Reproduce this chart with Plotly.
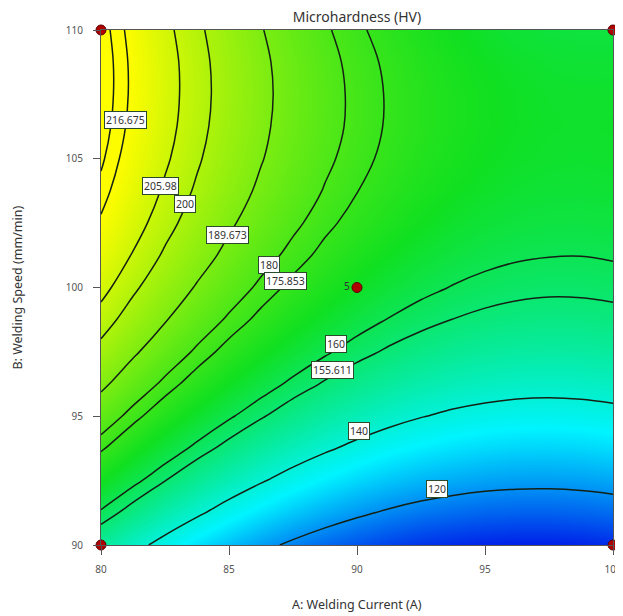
import plotly.graph_objects as go

# ---- data ----
A_current = [80, 81.25, 82.5, 83.75, 85, 86.25, 87.5, 88.75, 90,
             91.25, 92.5, 93.75, 95, 96.25, 97.5, 98.75, 100]        # A: Welding Current (A)
B_speed = [90, 91.25, 92.5, 93.75, 95, 96.25, 97.5, 98.75, 100,
           101.25, 102.5, 103.75, 105, 106.25, 107.5, 108.75, 110]   # B: Welding Speed (mm/min)

# Microhardness (HV) estimated on the grid: one row per welding speed
hv_b090_00 = [149.3, 142.9, 137.0, 131.6, 126.8, 122.3, 118.4, 115.0, 112.1, 109.7, 107.7, 106.3, 105.4, 104.9, 104.9, 105.5, 106.5]
hv_b091_25 = [159.1, 152.7, 146.7, 141.3, 136.3, 131.9, 127.9, 124.4, 121.4, 118.9, 116.9, 115.4, 114.4, 113.9, 113.9, 114.4, 115.3]
hv_b092_50 = [168.2, 161.7, 155.7, 150.2, 145.2, 140.7, 136.6, 133.1, 130.0, 127.5, 125.4, 123.9, 122.8, 122.2, 122.1, 122.5, 123.4]
hv_b093_75 = [176.7, 170.1, 164.0, 158.4, 153.4, 148.8, 144.7, 141.1, 138.0, 135.3, 133.2, 131.6, 130.5, 129.8, 129.7, 130.0, 130.9]
hv_b095_00 = [184.4, 177.7, 171.6, 166.0, 160.8, 156.2, 152.0, 148.3, 145.2, 142.5, 140.3, 138.6, 137.4, 136.7, 136.5, 136.8, 137.6]
hv_b096_25 = [191.4, 184.7, 178.5, 172.8, 167.6, 162.9, 158.6, 154.9, 151.7, 148.9, 146.7, 144.9, 143.7, 142.9, 142.6, 142.9, 143.6]
hv_b097_50 = [197.7, 190.9, 184.7, 178.9, 173.6, 168.9, 164.6, 160.8, 157.5, 154.7, 152.4, 150.6, 149.2, 148.4, 148.1, 148.2, 148.9]
hv_b098_75 = [203.3, 196.5, 190.2, 184.3, 179.0, 174.2, 169.8, 166.0, 162.6, 159.7, 157.4, 155.5, 154.1, 153.2, 152.8, 152.9, 153.5]
hv_b100_00 = [208.2, 201.3, 194.9, 189.0, 183.7, 178.7, 174.3, 170.4, 167.0, 164.1, 161.6, 159.7, 158.3, 157.3, 156.8, 156.9, 157.4]
hv_b101_25 = [212.4, 205.5, 199.0, 193.1, 187.6, 182.6, 178.2, 174.2, 170.7, 167.7, 165.2, 163.2, 161.7, 160.7, 160.2, 160.1, 160.6]
hv_b102_50 = [215.9, 208.9, 202.4, 196.4, 190.8, 185.8, 181.3, 177.2, 173.7, 170.6, 168.1, 166.0, 164.4, 163.4, 162.8, 162.7, 163.1]
hv_b103_75 = [218.7, 211.6, 205.0, 199.0, 193.4, 188.3, 183.7, 179.6, 176.0, 172.9, 170.2, 168.1, 166.5, 165.3, 164.7, 164.5, 164.9]
hv_b105_00 = [220.8, 213.6, 207.0, 200.9, 195.2, 190.1, 185.4, 181.2, 177.6, 174.4, 171.7, 169.5, 167.8, 166.6, 165.9, 165.7, 166.0]
hv_b106_25 = [222.2, 215.0, 208.3, 202.1, 196.4, 191.1, 186.4, 182.2, 178.5, 175.2, 172.5, 170.2, 168.5, 167.2, 166.4, 166.1, 166.4]
hv_b107_50 = [222.8, 215.6, 208.8, 202.6, 196.8, 191.5, 186.7, 182.4, 178.6, 175.3, 172.5, 170.2, 168.4, 167.1, 166.2, 165.9, 166.0]
hv_b108_75 = [222.8, 215.5, 208.7, 202.4, 196.5, 191.2, 186.3, 182.0, 178.1, 174.8, 171.9, 169.5, 167.6, 166.2, 165.3, 164.9, 165.0]
hv_b110_00 = [222.1, 214.7, 207.8, 201.4, 195.6, 190.1, 185.2, 180.8, 176.9, 173.5, 170.5, 168.1, 166.2, 164.7, 163.7, 163.3, 163.3]
hardness = [hv_b090_00, hv_b091_25, hv_b092_50, hv_b093_75, hv_b095_00, hv_b096_25,
            hv_b097_50, hv_b098_75, hv_b100_00, hv_b101_25, hv_b102_50, hv_b103_75,
            hv_b105_00, hv_b106_25, hv_b107_50, hv_b108_75, hv_b110_00]

contour_levels = [120, 140, 155.611, 160, 175.853, 180, 189.673, 200, 205.98, 216.675, 220]

label_levels = [216.675, 205.98, 200, 189.673, 180, 175.853, 160, 155.611, 140, 120]
label_A = [80.94, 82.34, 83.28, 84.96, 86.56, 87.19, 89.18, 89.06, 90.08, 93.13]
label_B = [106.49, 103.96, 103.26, 102.02, 100.89, 100.27, 97.79, 96.78, 94.41, 92.16]

design_A = [80, 80, 100, 100, 90]
design_B = [90, 110, 90, 110, 100]
design_text = ["", "", "", "", "5"]

x_ticks = [80, 85, 90, 95, 100]
y_ticks = [90, 95, 100, 105, 110]

# ---- figure ----
FONT = "Noto Sans, Open Sans, sans-serif"
zmin, zmax = 104, 222
def frac(v):
    return (v - zmin) / (zmax - zmin)

colorscale = [
    [0.0, "#0018e8"],
    [frac(134), "#00f4ff"],
    [frac(168), "#10e020"],
    [frac(216), "#fcfc00"],
    [1.0, "#ffff00"],
]

fig = go.Figure()

fig.add_trace(go.Contour(
    x=A_current, y=B_speed, z=hardness,
    colorscale=colorscale, zmin=zmin, zmax=zmax,
    contours=dict(coloring="heatmap", showlines=False),
    line=dict(width=0),
    showscale=False, hoverinfo="skip",
))

for lv in contour_levels:
    fig.add_trace(go.Contour(
        x=A_current, y=B_speed, z=hardness,
        autocontour=False,
        contours=dict(start=lv, end=lv, size=1, coloring="none", showlabels=False),
        line=dict(color="#142014", width=1.5, smoothing=1.0),
        showscale=False, hoverinfo="skip",
    ))

fig.add_trace(go.Scatter(
    x=design_A, y=design_B, mode="markers+text",
    text=design_text, textposition="middle left",
    textfont=dict(family=FONT, size=10, color="#333"),
    marker=dict(size=10, color="#b00000", line=dict(color="#5a0000", width=1)),
    cliponaxis=False, hoverinfo="skip", showlegend=False,
))

annotations = []
for lv, ax_, by_ in zip(label_levels, label_A, label_B):
    annotations.append(dict(
        x=ax_, y=by_, xref="x", yref="y", text=f"{lv:g}", showarrow=False,
        font=dict(family=FONT, size=10.5, color="#333"),
        bgcolor="white", bordercolor="#2a4a2a", borderwidth=1, borderpad=1,
    ))

annotations.append(dict(
    x=0.5, y=-0.1165, xref="paper", yref="paper", text="A: Welding Current (A)",
    showarrow=False, font=dict(family=FONT, size=12.5, color="#333"),
    xanchor="center", yanchor="middle",
))
annotations.append(dict(
    x=-0.164, y=0.5, xref="paper", yref="paper", text="B: Welding Speed (mm/min)",
    showarrow=False, textangle=-90, font=dict(family=FONT, size=12.5, color="#333"),
    xanchor="center", yanchor="middle",
))

# the page adds an 8px body margin, so the figure is offset by 8px
fig.update_layout(
    width=615, height=608,
    margin=dict(l=93, r=10, t=22, b=71, autoexpand=False),
    paper_bgcolor="white", plot_bgcolor="white",
    showlegend=False,
    title=dict(text="Microhardness (HV)", x=0.5, xref="paper", xanchor="center",
               y=1 - 9 / 608, yref="container", yanchor="middle", automargin=False,
               font=dict(family=FONT, size=14, color="#333")),
    annotations=annotations,
    xaxis=dict(range=[80, 100], tickvals=x_ticks, ticks="outside", ticklen=9,
               tickcolor="#555", showline=True, linecolor="#555", linewidth=1,
               mirror=True, showgrid=False, zeroline=False, automargin=False,
               ticklabelstandoff=6,
               tickfont=dict(family=FONT, size=10, color="#555")),
    yaxis=dict(range=[90, 110], tickvals=y_ticks, ticks="outside", ticklen=7,
               tickcolor="#555", showline=True, linecolor="#555", linewidth=1,
               mirror=True, showgrid=False, zeroline=False, automargin=False,
               ticklabelstandoff=8,
               tickfont=dict(family=FONT, size=10, color="#555")),
)

fig.write_html("out.html")
